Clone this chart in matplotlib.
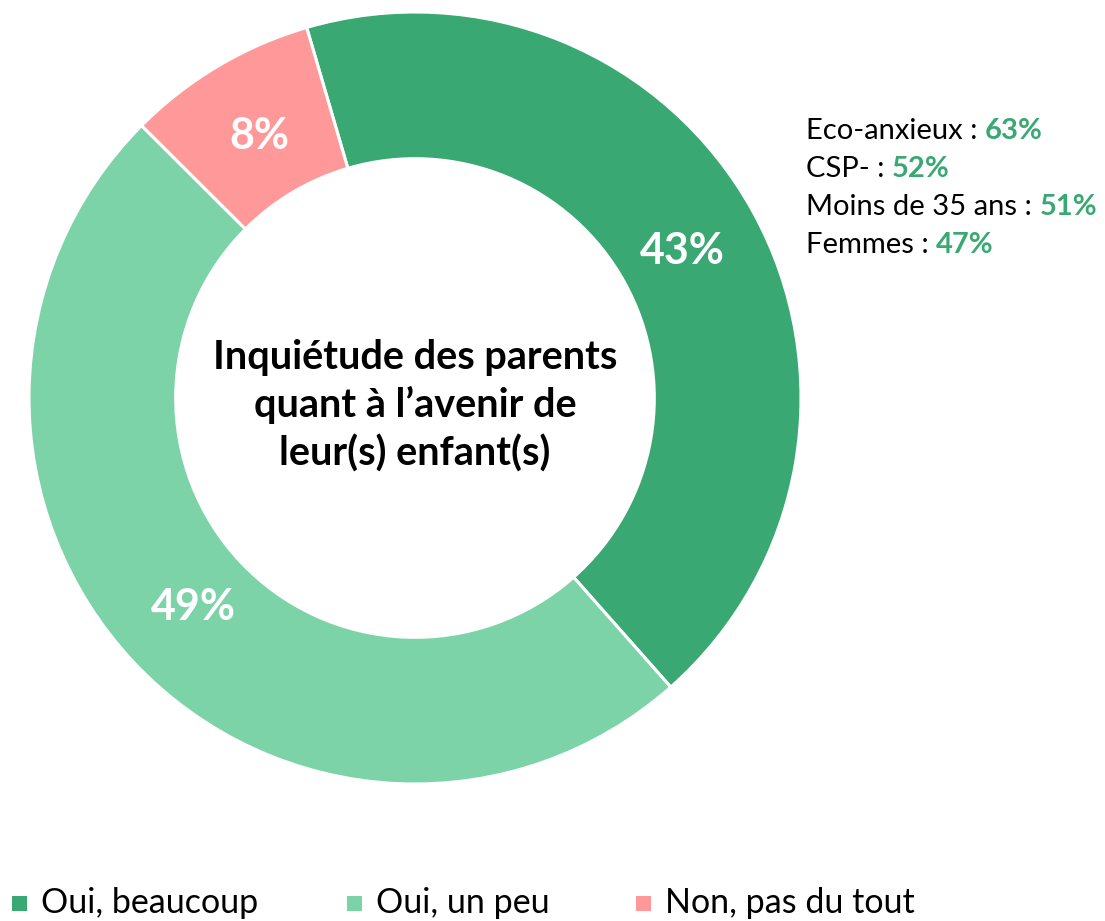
import matplotlib
matplotlib.use("Agg")
import matplotlib.pyplot as plt
from matplotlib.patches import Rectangle

plt.rcParams["font.family"] = ["Lato", "DejaVu Sans"]

# Survey answers
answers = ["Oui, beaucoup", "Oui, un peu", "Non, pas du tout"]
shares = [43, 49, 8]
colors = ["#3AA872", "#7DD3A8", "#FF9999"]

# Sub-groups answering "Oui, beaucoup"
group_names = ["Eco-anxieux", "CSP-", "Moins de 35 ans", "Femmes"]
group_shares = [63, 52, 51, 47]

center_title = "Inquiétude des parents\nquant à l\u2019avenir de\nleur(s) enfant(s)"

W, H = 1105, 921
fig = plt.figure(figsize=(W / 100, H / 100), dpi=100)
ax = fig.add_axes([29 / W, 137 / H, 772 / W, 772 / H])

wedges, _, autotexts = ax.pie(
    shares, colors=colors, startangle=106.3, counterclock=False,
    radius=1.0, autopct=lambda p: f"{p:.0f}%", pctdistance=0.79,
    wedgeprops=dict(width=0.38, edgecolor="white", linewidth=2.2),
    textprops=dict(color="white", fontsize=31, fontweight="bold"),
)
ax.set_xlim(-1, 1)
ax.set_ylim(-1, 1)
ax.set_aspect("equal")
ax.axis("off")

ax.text(0, -0.02, center_title, ha="center", va="center", fontsize=28.5,
        fontweight="bold", linespacing=1.32)

# Sub-group breakdown on the right
for i, (name, val) in enumerate(zip(group_names, group_shares)):
    y = 1 - (131 + 38 * i) / H
    t = fig.text(806 / W, y, f"{name} : ", fontsize=21, va="center",
                 color="black")
    ax.annotate(f"{val}%", xy=(1, 0.5), xycoords=t, va="center", ha="left",
                fontsize=21, fontweight="bold", color="#3AA872")

# Legend row along the bottom
legend_x = [12, 347, 636]
legend_y = 1 - 903 / H
sq = 15
for x, label, c in zip(legend_x, answers, colors):
    fig.patches.append(Rectangle((x / W, legend_y - sq / 2 / H), sq / W, sq / H,
                                 transform=fig.transFigure, facecolor=c,
                                 edgecolor="none"))
    fig.text((x + 29) / W, legend_y, label, fontsize=24.5, va="center",
             ha="left", color="black")

fig.savefig("out.png", dpi=100)
